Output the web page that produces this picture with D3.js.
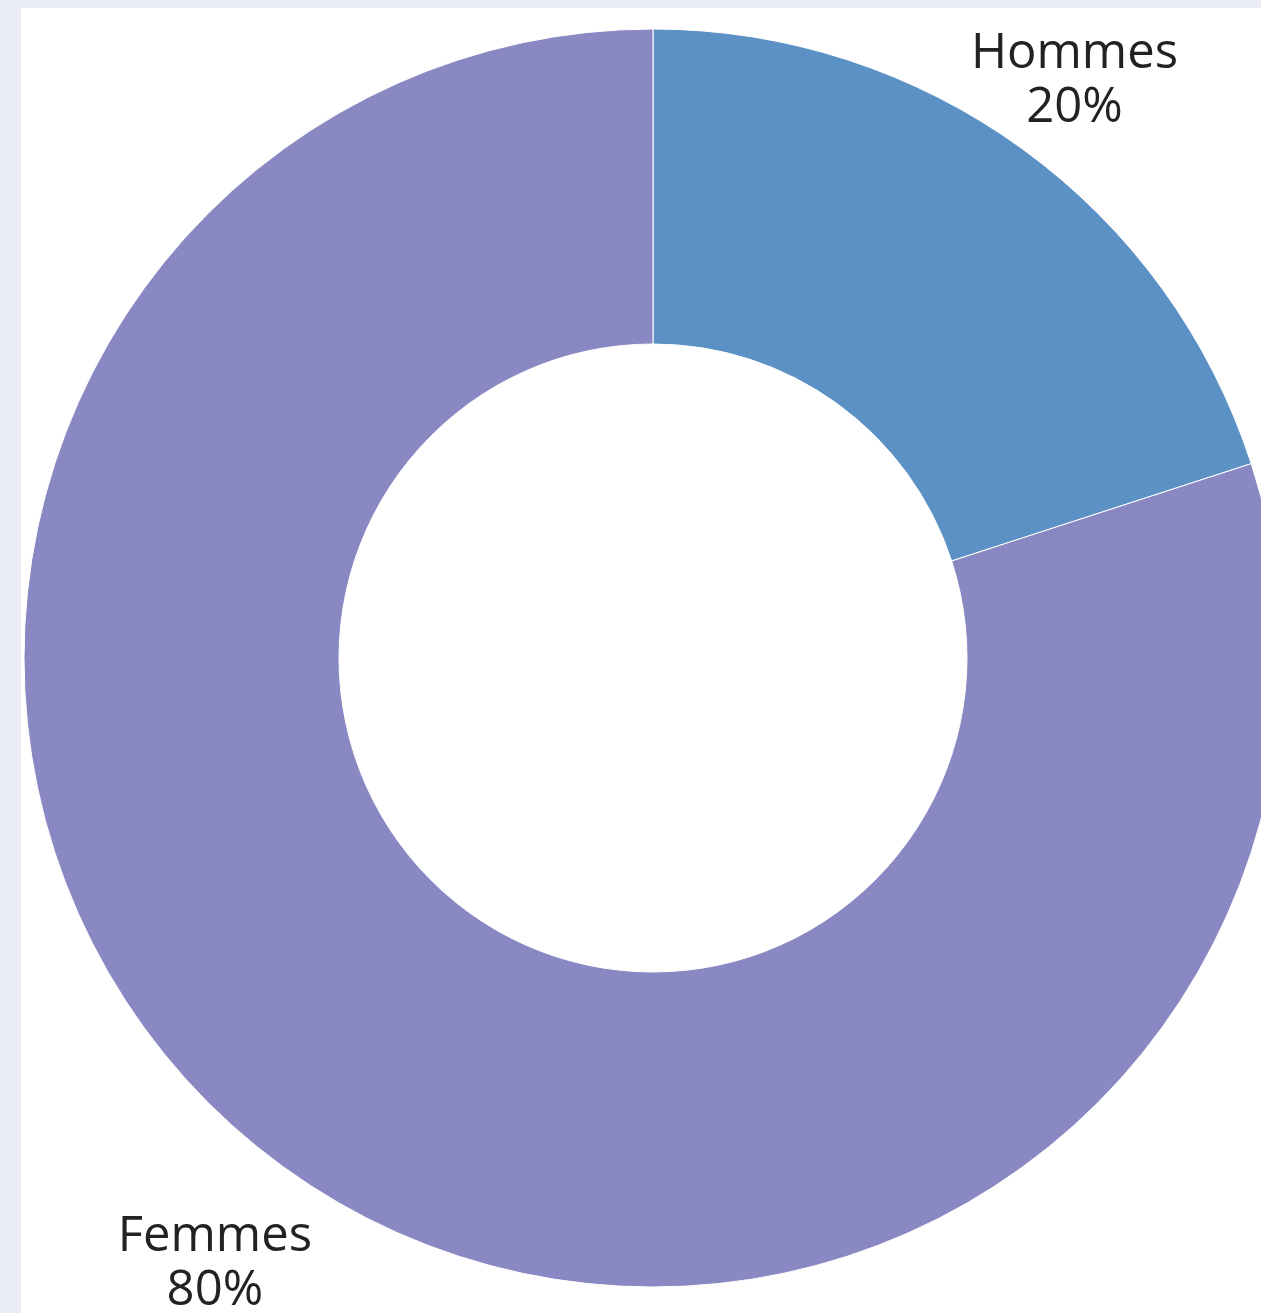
<!DOCTYPE html>
<html>
<head>
<meta charset="utf-8">
<script src="https://cdn.jsdelivr.net/npm/d3@7"></script>
<style>
  body { margin: 0; background: #e9ecf6; overflow: hidden; }
  #chart-wrap { position: absolute; left: 21px; top: 8px; width: 1240px; height: 1305px; background: #fff; }
  text { font-family: "Open Sans", sans-serif; }
</style>
</head>
<body>
<div id="chart-wrap"></div>
<script>
"use strict";

var labels = ["Hommes", "Femmes"];
var values = [20, 80];
var sliceColors = ["#5b91c4", "#8988c2"];

var w = 1240,
  h = 1305,
  cx = 632,
  cy = 650,
  outerR = 629,
  innerR = 314;

var svg = d3
  .select("#chart-wrap")
  .append("svg")
  .attr("width", w)
  .attr("height", h);

var g = svg.append("g").attr("transform", "translate(" + cx + "," + cy + ")");

var pie = d3
  .pie()
  .sort(null)
  .value(function(d) {
    return d.value;
  });

var arc = d3.arc().innerRadius(innerR).outerRadius(outerR);

var data = labels.map(function(l, i) {
  return { label: l, value: values[i], color: sliceColors[i] };
});

var total = d3.sum(values);

var slices = pie(data);

g.selectAll(".slice")
  .data(slices)
  .enter()
  .append("path")
  .attr("class", "slice")
  .attr("d", arc)
  .attr("fill", function(d) {
    return d.data.color;
  })
  .attr("stroke", "#fff")
  .attr("stroke-width", 1);

//outside labels, pushed a bit further when in the lower half
function labelPos(d) {
  var mid = (d.startAngle + d.endAngle) / 2;
  var r = outerR * (Math.cos(mid) < 0 ? 1.185 : 1.14);
  return [r * Math.sin(mid), -r * Math.cos(mid)];
}

var lab = g
  .selectAll(".label")
  .data(slices)
  .enter()
  .append("text")
  .attr("class", "label")
  .attr("text-anchor", "middle")
  .attr("font-size", 49)
  .attr("fill", "#222")
  .attr("transform", function(d) {
    var p = labelPos(d);
    return "translate(" + p[0] + "," + p[1] + ")";
  });

lab
  .append("tspan")
  .attr("x", 0)
  .attr("y", -10)
  .text(function(d) {
    return d.data.label;
  });

lab
  .append("tspan")
  .attr("x", 0)
  .attr("y", 44)
  .text(function(d) {
    return Math.round((d.data.value / total) * 100) + "%";
  });
</script>
</body>
</html>
